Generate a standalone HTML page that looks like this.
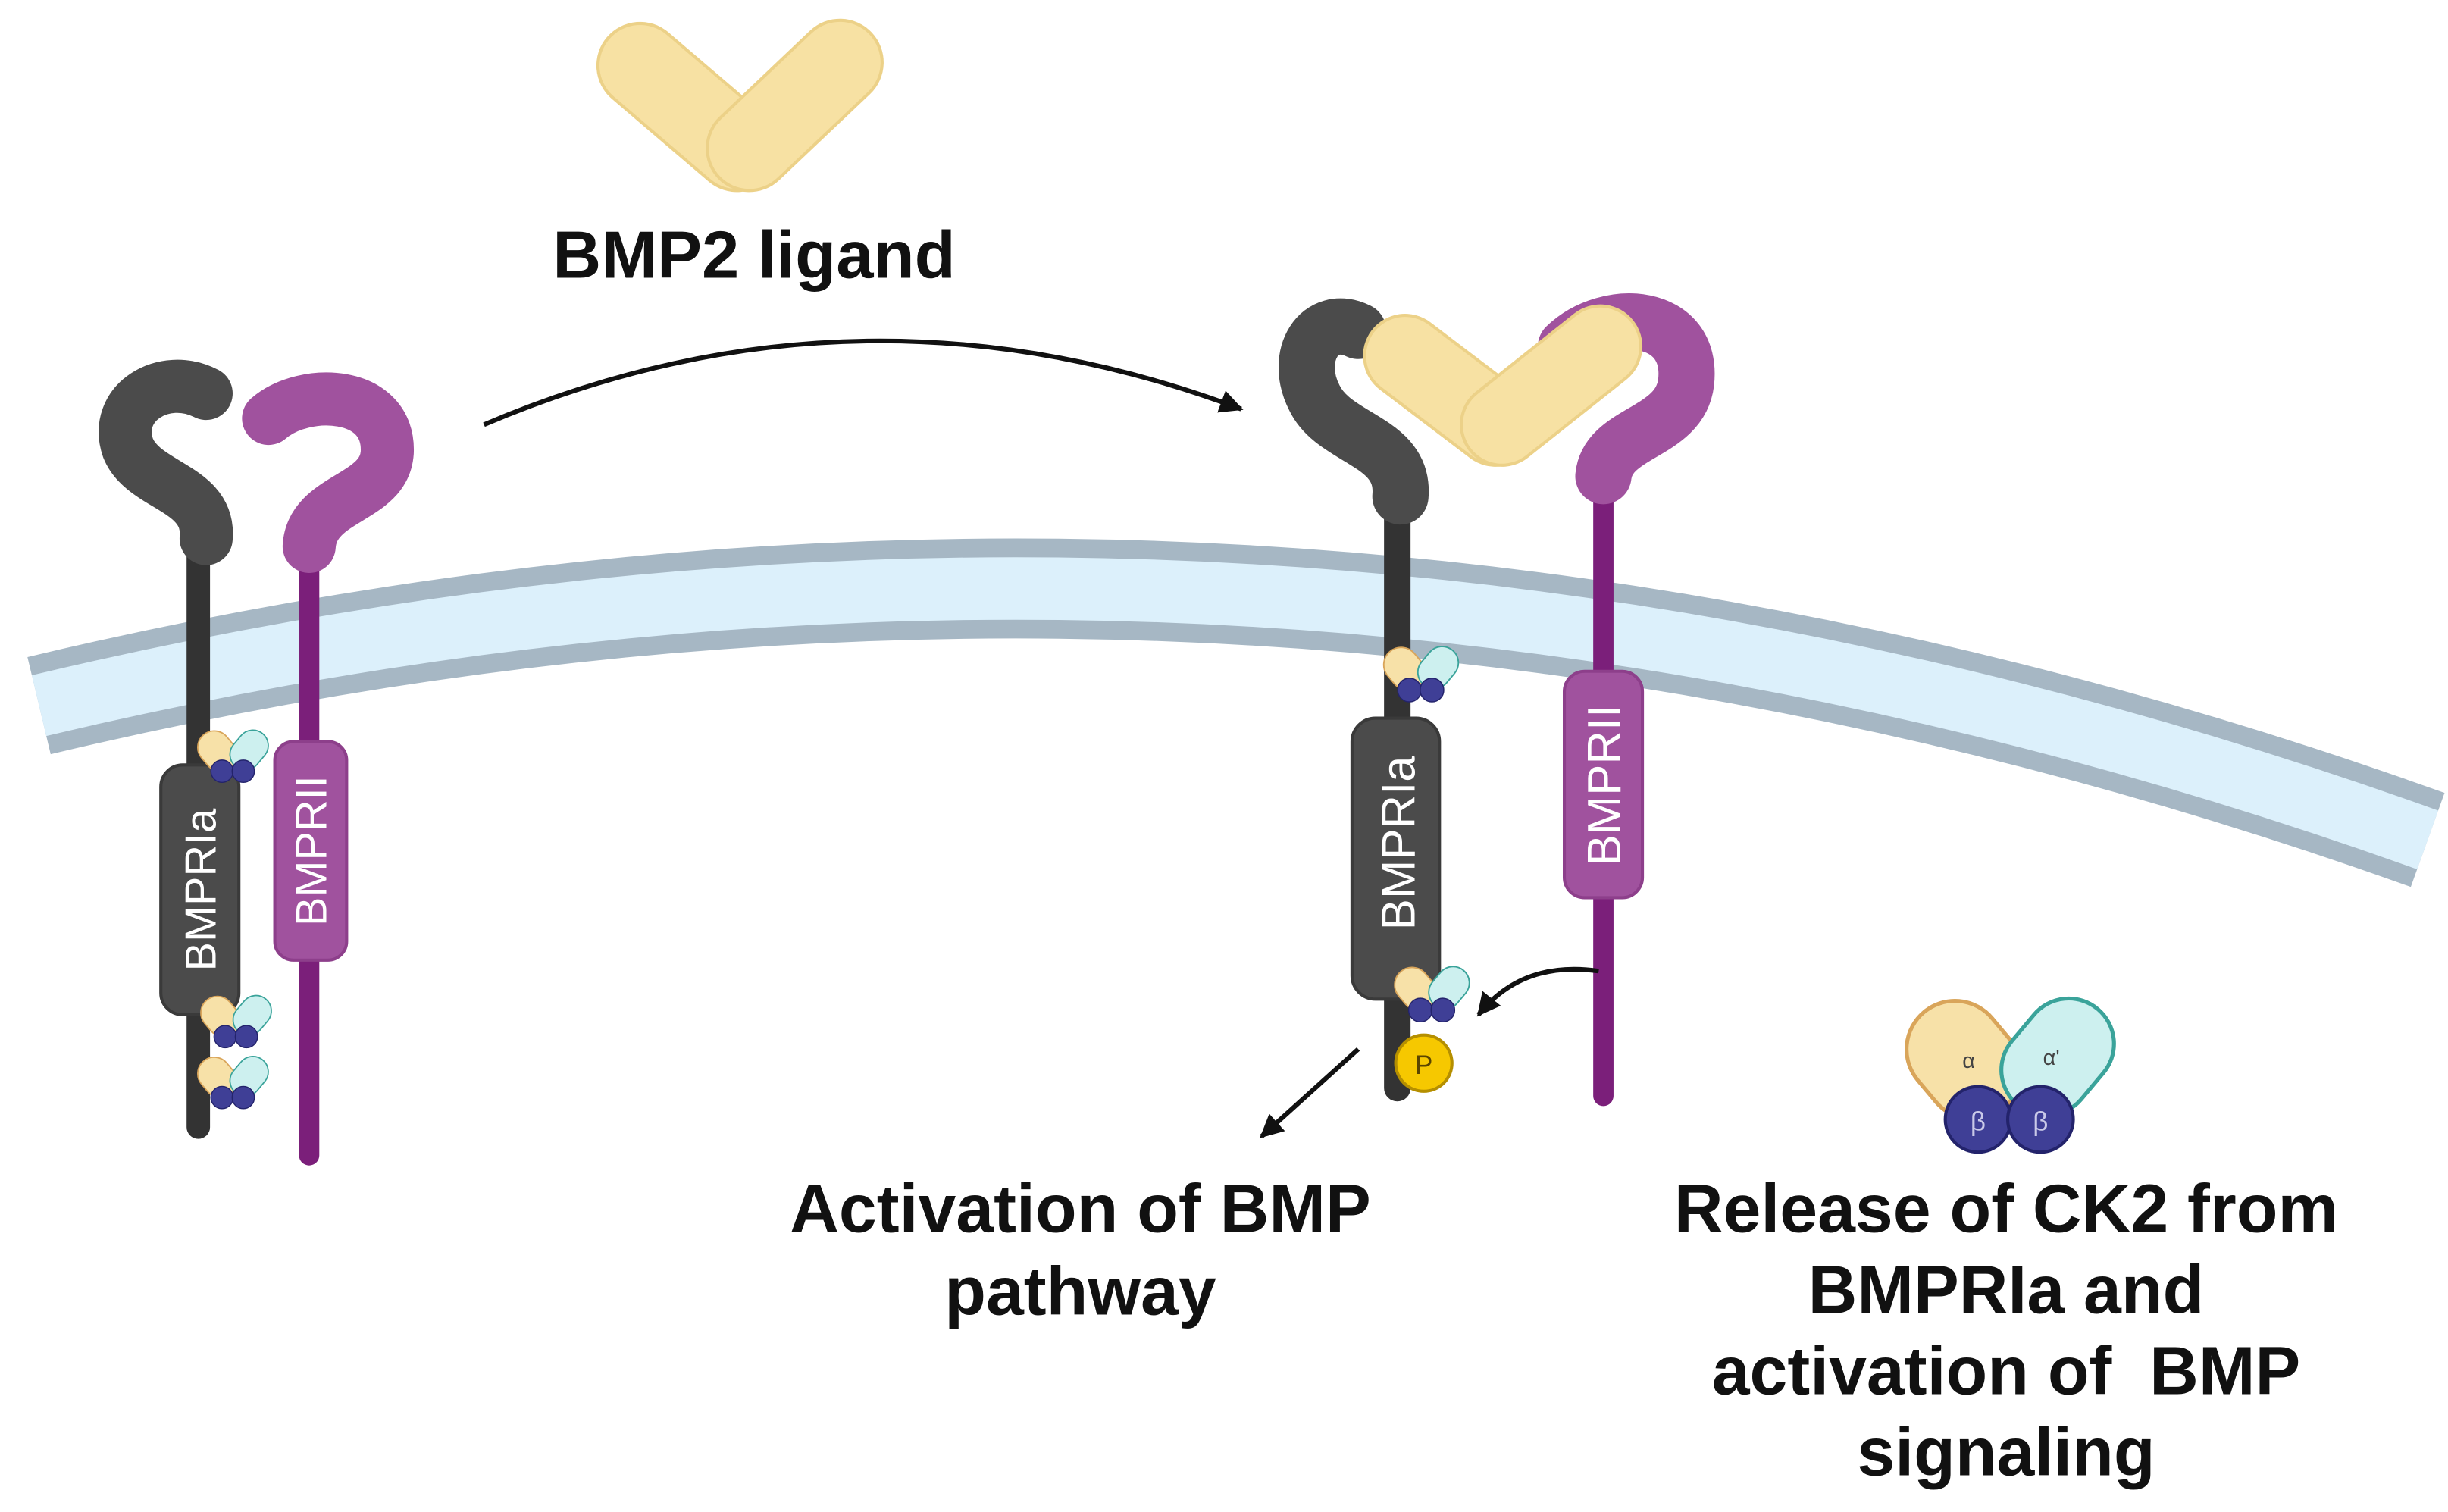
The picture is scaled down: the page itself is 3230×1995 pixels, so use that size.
<!DOCTYPE html>
<html><head><meta charset="utf-8"><style>
html,body{margin:0;padding:0;background:#fff;}
svg{display:block;}
text{font-family:"Liberation Sans",Arial,sans-serif;}
</style></head><body>
<svg width="3230" height="1995" viewBox="0 0 1568 968.5" xmlns="http://www.w3.org/2000/svg">
<defs>
<g id="ck2">
  <rect x="-60" y="-78" width="62" height="80" rx="31" transform="rotate(-40 -29 -38)" fill="#f7e1a8" stroke="#d9a55a" stroke-width="2.5"/>
  <rect x="2" y="-80" width="58" height="80" rx="29" transform="rotate(40 31 -40)" fill="#cdf0ef" stroke="#3aa39a" stroke-width="2.5"/>
  <circle cx="-20" cy="0" r="21" fill="#3f3f96" stroke="#23236b" stroke-width="2"/>
  <circle cx="20" cy="0" r="21" fill="#3f3f96" stroke="#23236b" stroke-width="2"/>
</g>
<marker id="ah" viewBox="0 0 10 10" refX="9" refY="5" markerWidth="5" markerHeight="5" orient="auto"><path d="M0,0 L10,5 L0,10 z" fill="#111"/></marker>
</defs>

<!-- membrane -->
<path d="M25,452 Q800,267 1555,538" fill="none" stroke="#a6b7c4" stroke-width="64"/>
<path d="M25,452 Q800,267 1555,538" fill="none" stroke="#dcf0fb" stroke-width="40"/>

<!-- top ligand -->
<line x1="410" y1="42" x2="472" y2="95" stroke="#ecd188" stroke-width="56" stroke-linecap="round"/>
<line x1="410" y1="42" x2="472" y2="95" stroke="#f7e1a3" stroke-width="52" stroke-linecap="round"/>
<line x1="480" y1="95" x2="538" y2="40" stroke="#ecd188" stroke-width="56" stroke-linecap="round"/>
<line x1="480" y1="95" x2="538" y2="40" stroke="#f7e1a3" stroke-width="52" stroke-linecap="round"/>
<text x="483" y="178" font-size="43" font-weight="bold" text-anchor="middle" fill="#111">BMP2 ligand</text>

<!-- curved arrow -->
<path d="M310,272 Q550,170 795,262" fill="none" stroke="#111" stroke-width="3" marker-end="url(#ah)"/>

<!-- LEFT receptors -->
<line x1="127" y1="350" x2="127" y2="722" stroke="#333" stroke-width="15" stroke-linecap="round"/>
<path d="M132,252 C105,238 72,258 82,287 C92,312 135,312 132,345" fill="none" stroke="#4b4b4b" stroke-width="34" stroke-linecap="round"/>
<rect x="103" y="490" width="50" height="160" rx="14" fill="#4b4b4b" stroke="#3a3a3a" stroke-width="2"/>
<text transform="translate(138,570) rotate(-90)" font-size="28" fill="#fff" text-anchor="middle">BMPRIa</text>
<use href="#ck2" transform="translate(149,494) scale(0.34)"/>
<use href="#ck2" transform="translate(151,664) scale(0.34)"/>
<use href="#ck2" transform="translate(149,703) scale(0.34)"/>

<line x1="198" y1="350" x2="198" y2="740" stroke="#7b1f7a" stroke-width="13" stroke-linecap="round"/>
<path d="M172,268 C195,248 250,250 248,290 C246,320 200,318 198,350" fill="none" stroke="#a0529e" stroke-width="34" stroke-linecap="round"/>
<rect x="176" y="475" width="46" height="140" rx="12" fill="#a0529e" stroke="#8d3f8b" stroke-width="2"/>
<text transform="translate(209,545) rotate(-90)" font-size="28" fill="#fff" text-anchor="middle">BMPRII</text>

<!-- RIGHT receptors -->
<line x1="895" y1="320" x2="895" y2="697" stroke="#333" stroke-width="17" stroke-linecap="round"/>
<path d="M870,212 C845,200 828,228 842,255 C855,282 900,282 897,318" fill="none" stroke="#4b4b4b" stroke-width="36" stroke-linecap="round"/>
<line x1="1027" y1="300" x2="1027" y2="702" stroke="#7b1f7a" stroke-width="13" stroke-linecap="round"/>
<path d="M1003,222 C1030,196 1085,200 1080,245 C1076,278 1030,276 1027,305" fill="none" stroke="#a0529e" stroke-width="36" stroke-linecap="round"/>
<line x1="900" y1="228" x2="958" y2="272" stroke="#ecd188" stroke-width="54" stroke-linecap="round"/>
<line x1="900" y1="228" x2="958" y2="272" stroke="#f7e1a3" stroke-width="50" stroke-linecap="round"/>
<line x1="962" y1="272" x2="1025" y2="222" stroke="#ecd188" stroke-width="54" stroke-linecap="round"/>
<line x1="962" y1="272" x2="1025" y2="222" stroke="#f7e1a3" stroke-width="50" stroke-linecap="round"/>

<rect x="866" y="460" width="56" height="180" rx="15" fill="#4b4b4b" stroke="#3a3a3a" stroke-width="2"/>
<text transform="translate(906,540) rotate(-90)" font-size="30" fill="#fff" text-anchor="middle">BMPRIa</text>
<use href="#ck2" transform="translate(910,442) scale(0.36)"/>
<use href="#ck2" transform="translate(917,647) scale(0.36)"/>
<circle cx="912" cy="681" r="18" fill="#f6c800" stroke="#b58f00" stroke-width="2"/>
<text x="912" y="688" font-size="17" text-anchor="middle" fill="#5a4500">P</text>

<rect x="1002" y="430" width="50" height="145" rx="13" fill="#a0529e" stroke="#8d3f8b" stroke-width="2"/>
<text transform="translate(1038,503) rotate(-90)" font-size="30" fill="#fff" text-anchor="middle">BMPRII</text>

<path d="M1024,622 Q975,615 947,650" fill="none" stroke="#111" stroke-width="3" marker-end="url(#ah)"/>
<path d="M870,672 L808,728" fill="none" stroke="#111" stroke-width="3" marker-end="url(#ah)"/>

<!-- free CK2 -->
<use href="#ck2" transform="translate(1287,717)"/>
<text x="1261" y="684" font-size="14" fill="#444" text-anchor="middle">α</text>
<text x="1314" y="682" font-size="14" fill="#444" text-anchor="middle">α'</text>
<text x="1267" y="724" font-size="17" fill="#c9c9e8" text-anchor="middle">β</text>
<text x="1307" y="724" font-size="17" fill="#c9c9e8" text-anchor="middle">β</text>

<g font-size="43.5" font-weight="bold" fill="#111" text-anchor="middle">
<text x="692" y="789">Activation of BMP</text>
<text x="692" y="842">pathway</text>
<text x="1285" y="789">Release of CK2 from</text>
<text x="1285" y="841">BMPRIa and</text>
<text x="1285" y="893">activation of&#160; BMP</text>
<text x="1285" y="945">signaling</text>
</g>
</svg>
</body></html>
